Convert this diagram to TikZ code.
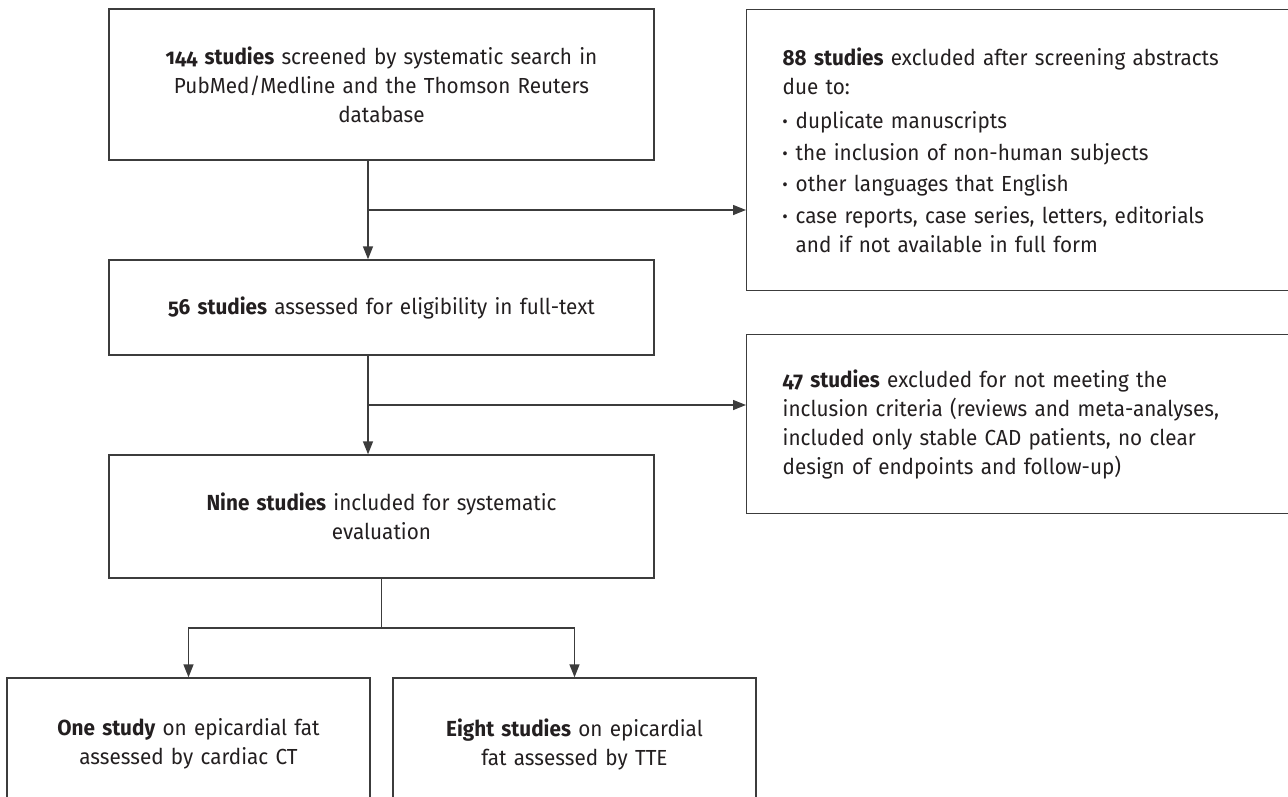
\documentclass[tikz,border=0pt]{standalone}
\usepackage{fontspec}
\setmainfont{Fira Sans}[Numbers=OldStyle, FakeStretch=0.95]
\usetikzlibrary{arrows.meta}
\definecolor{framegray}{HTML}{3C3C3C}
\definecolor{textblack}{HTML}{231F20}
\newcommand{\bul}{\makebox[0.26cm][l]{\textbf{·}}}
\tikzset{
  box/.style={draw=framegray, line width=0.8pt, text=textblack, inner sep=0pt,
    align=center, font=\fontsize{12.4}{16.5}\selectfont},
  sidebox/.style={box, align=left, anchor=north west, inner xsep=0.72cm, text width=10.4cm}
}
\begin{document}
\begin{tikzpicture}[color=framegray, line width=0.8pt, >={Triangle[length=0.26cm,width=0.2cm]}, x=1.0cm, y=1.0cm]
\clip (0,0) rectangle (25.76,15.92);
\node[box, text width=10.9cm, minimum height=3.02cm] (screened) at (7.63,14.23)
  {\textbf{144 studies} screened by systematic search in\\ PubMed/Medline and the Thomson Reuters\\ database};
\node[box, text width=10.9cm, minimum height=1.9cm] (eligible) at (7.63,9.77)
  {\textbf{56 studies} assessed for eligibility in full-text};
\node[box, text width=10.9cm, minimum height=2.46cm] (included) at (7.63,5.59)
  {\textbf{Nine studies} included for systematic\\ evaluation};
\node[box, text width=7.26cm, minimum height=2.64cm] (cardiacct) at (3.77,1.04)
  {\textbf{One study} on epicardial fat\\ assessed by cardiac CT};
\node[box, text width=7.26cm, minimum height=2.64cm] (tte) at (11.49,1.04)
  {\textbf{Eight studies} on epicardial\\ fat assessed by TTE};
\node[sidebox, minimum height=5.62cm] (abstracts) at (14.92,15.74)
  {\textbf{88 studies} excluded after screening abstracts\\
   due to:\\[3pt]
   \bul duplicate manuscripts\\[1.5pt]
   \bul the inclusion of non-human subjects\\[1.5pt]
   \bul other languages that English\\[1.5pt]
   \bul case reports, case series, letters, editorials\\
   \hspace*{0.26cm}and if not available in full form};
\node[sidebox, minimum height=3.58cm] (criteria) at (14.92,9.24)
  {\textbf{47 studies} excluded for not meeting the\\
   inclusion criteria (reviews and meta-analyses,\\
   included only stable CAD patients, no clear\\
   design of endpoints and follow-up)};
\coordinate (fork1) at (7.36,11.72);
\coordinate (fork2) at (7.36,7.82);
\coordinate (fork3) at (7.63,3.36);
\draw [->] (screened.south -| fork1) -- (eligible.north -| fork1);
\draw [->] (fork1) -- (fork1 -| abstracts.west);
\draw [->] (eligible.south -| fork2) -- (included.north -| fork2);
\draw [->] (fork2) -- (fork2 -| criteria.west);
\draw (included.south) -- (fork3);
\draw [->] (fork3) -| (cardiacct.north);
\draw [->] (fork3) -| (tte.north);
\end{tikzpicture}
\end{document}
